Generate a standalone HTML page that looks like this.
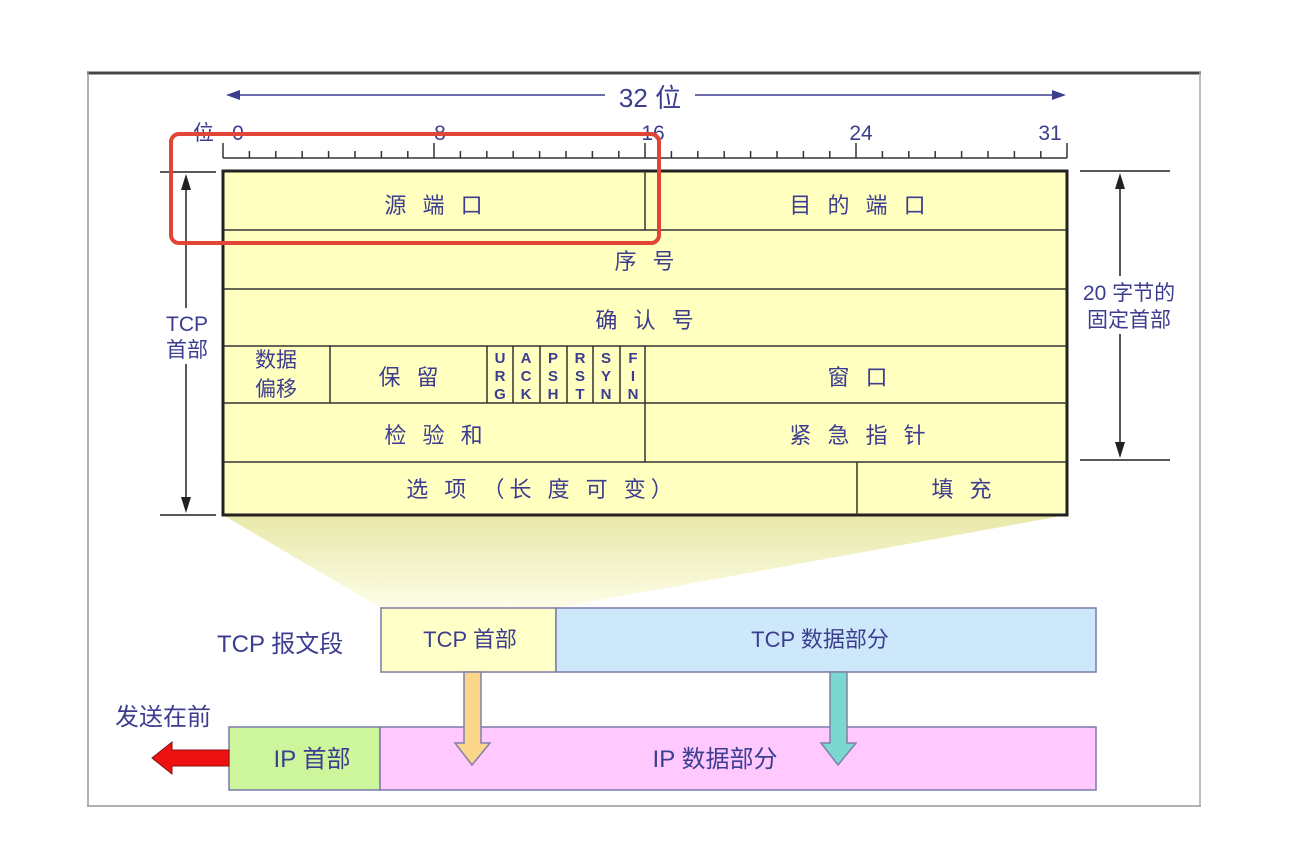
<!DOCTYPE html>
<html><head><meta charset="utf-8"><style>
body{margin:0;background:#fff;}
svg text{font-family:"Liberation Sans","Noto Sans CJK SC",sans-serif;fill:#3d3d8f;}
.sp{letter-spacing:5px;}
</style></head><body>
<svg width="1308" height="838" viewBox="0 0 1308 838" xmlns="http://www.w3.org/2000/svg">
<defs>
<linearGradient id="fan" x1="0" y1="0" x2="0" y2="1">
<stop offset="0" stop-color="#e8e8a8"/><stop offset="1" stop-color="#fdfde8"/>
</linearGradient>
</defs>
<line x1="87" y1="73" x2="1201" y2="73" stroke="#444" stroke-width="3"/>
<line x1="88" y1="72" x2="88" y2="806" stroke="#999" stroke-width="1.5"/>
<line x1="1200" y1="72" x2="1200" y2="806" stroke="#aaa" stroke-width="1.5"/>
<line x1="87" y1="806" x2="1201" y2="806" stroke="#999" stroke-width="1.5"/>

<line x1="232" y1="95" x2="605" y2="95" stroke="#3d3d8f" stroke-width="1.5"/>
<line x1="695" y1="95" x2="1060" y2="95" stroke="#3d3d8f" stroke-width="1.5"/>
<polygon points="226,95 240,90 240,100" fill="#3d3d8f"/>
<polygon points="1066,95 1052,90 1052,100" fill="#3d3d8f"/>
<text x="650" y="107" font-size="26" text-anchor="middle">32 位</text>

<text x="193" y="140" font-size="21">位</text>
<g font-size="21" text-anchor="middle">
<text x="238" y="140">0</text><text x="440" y="140">8</text><text x="653" y="140">16</text><text x="861" y="140">24</text><text x="1050" y="140">31</text>
</g>
<line x1="223" y1="158" x2="1067" y2="158" stroke="#333" stroke-width="1.5"/>
<g stroke="#333" stroke-width="1.5">
<line x1="223" y1="143" x2="223" y2="158"/><line x1="434" y1="143" x2="434" y2="158"/><line x1="645" y1="143" x2="645" y2="158"/><line x1="856" y1="143" x2="856" y2="158"/><line x1="1067" y1="143" x2="1067" y2="158"/>
<path d="M249.4 151V158M275.8 151V158M302.2 151V158M328.6 151V158M355 151V158M381.4 151V158M407.8 151V158M460.4 151V158M486.8 151V158M513.2 151V158M539.6 151V158M566 151V158M592.4 151V158M618.8 151V158M671.4 151V158M697.8 151V158M724.2 151V158M750.6 151V158M777 151V158M803.4 151V158M829.8 151V158M882.4 151V158M908.8 151V158M935.2 151V158M961.6 151V158M988 151V158M1014.4 151V158M1040.8 151V158"/>
</g>

<polygon points="223,515 1067,515 556,608 381,608" fill="url(#fan)"/>

<rect x="223" y="171" width="844" height="344" fill="#ffffc0" stroke="#222" stroke-width="3"/>
<g stroke="#333" stroke-width="1.5">
<line x1="223" y1="230" x2="1067" y2="230"/>
<line x1="223" y1="289" x2="1067" y2="289"/>
<line x1="223" y1="346" x2="1067" y2="346"/>
<line x1="223" y1="403" x2="1067" y2="403"/>
<line x1="223" y1="462" x2="1067" y2="462"/>
<line x1="645" y1="171" x2="645" y2="230"/>
<line x1="645" y1="346" x2="645" y2="462"/>
<line x1="857" y1="462" x2="857" y2="515"/>
<line x1="330" y1="346" x2="330" y2="403"/>
<line x1="487" y1="346" x2="487" y2="403"/>
<line x1="513" y1="346" x2="513" y2="403"/>
<line x1="540" y1="346" x2="540" y2="403"/>
<line x1="567" y1="346" x2="567" y2="403"/>
<line x1="593" y1="346" x2="593" y2="403"/>
<line x1="620" y1="346" x2="620" y2="403"/>
</g>
<g font-size="22" text-anchor="middle">
<text class="sp" x="436" y="213">源 端 口</text>
<text class="sp" x="860" y="213">目 的 端 口</text>
<text class="sp" x="647" y="269">序 号</text>
<text class="sp" x="647" y="328">确 认 号</text>
<text x="276" y="367" font-size="21">数据</text>
<text x="276" y="396" font-size="21">偏移</text>
<text class="sp" x="411" y="385">保 留</text>
<text class="sp" x="860" y="385">窗 口</text>
<text class="sp" x="436" y="443">检 验 和</text>
<text class="sp" x="860" y="443">紧 急 指 针</text>
<text class="sp" x="542" y="497">选 项 （长 度 可 变）</text>
<text class="sp" x="964" y="497">填 充</text>
</g>
<g font-size="15" font-weight="bold" text-anchor="middle">
<text x="500" y="363">U</text><text x="500" y="381">R</text><text x="500" y="399">G</text>
<text x="526" y="363">A</text><text x="526" y="381">C</text><text x="526" y="399">K</text>
<text x="553" y="363">P</text><text x="553" y="381">S</text><text x="553" y="399">H</text>
<text x="580" y="363">R</text><text x="580" y="381">S</text><text x="580" y="399">T</text>
<text x="606" y="363">S</text><text x="606" y="381">Y</text><text x="606" y="399">N</text>
<text x="633" y="363">F</text><text x="633" y="381">I</text><text x="633" y="399">N</text>
</g>

<g stroke="#222" stroke-width="1.5">
<line x1="160" y1="172" x2="216" y2="172"/>
<line x1="160" y1="515" x2="216" y2="515"/>
<line x1="186" y1="180" x2="186" y2="507"/>
</g>
<polygon points="186,174 181,190 191,190" fill="#222"/>
<polygon points="186,513 181,497 191,497" fill="#222"/>
<rect x="160" y="308" width="54" height="56" fill="#fff"/>
<text x="187" y="331" font-size="21" text-anchor="middle">TCP</text>
<text x="187" y="357" font-size="21" text-anchor="middle">首部</text>

<g stroke="#222" stroke-width="1.5">
<line x1="1080" y1="171" x2="1170" y2="171"/>
<line x1="1080" y1="460" x2="1170" y2="460"/>
<line x1="1120" y1="178" x2="1120" y2="453"/>
</g>
<polygon points="1120,173 1115,189 1125,189" fill="#222"/>
<polygon points="1120,458 1115,442 1125,442" fill="#222"/>
<rect x="1075" y="276" width="110" height="58" fill="#fff"/>
<text x="1129" y="300" font-size="21" text-anchor="middle">20 字节的</text>
<text x="1129" y="327" font-size="21" text-anchor="middle">固定首部</text>

<rect x="171" y="134" width="488" height="109" rx="8" fill="none" stroke="#e04535" stroke-width="4"/>

<text x="217" y="652" font-size="24">TCP 报文段</text>
<rect x="381" y="608" width="175" height="64" fill="#ffffc8" stroke="#7a7aaa" stroke-width="1.5"/>
<rect x="556" y="608" width="540" height="64" fill="#cce8fa" stroke="#7a7aaa" stroke-width="1.5"/>
<text x="470" y="647" font-size="22" text-anchor="middle">TCP 首部</text>
<text x="820" y="647" font-size="22" text-anchor="middle">TCP 数据部分</text>

<text x="115" y="725" font-size="24">发送在前</text>
<rect x="229" y="727" width="151" height="63" fill="#ccf59c" stroke="#7a7aaa" stroke-width="1.5"/>
<rect x="380" y="727" width="716" height="63" fill="#ffc8ff" stroke="#7a7aaa" stroke-width="1.5"/>
<text x="312" y="767" font-size="24" text-anchor="middle">IP 首部</text>
<text x="715" y="767" font-size="24" text-anchor="middle">IP 数据部分</text>

<polygon points="464,672 481,672 481,743 490,743 472,765 455,743 464,743" fill="#fbd58a" stroke="#8080a8" stroke-width="1.5"/>
<polygon points="830,672 847,672 847,743 856,743 838,765 821,743 830,743" fill="#7ad8d0" stroke="#8080a8" stroke-width="1.5"/>
<polygon points="229,750 172,750 172,742 152,758 172,774 172,766 229,766" fill="#ee1111" stroke="#881111" stroke-width="1"/>
</svg>
</body></html>
